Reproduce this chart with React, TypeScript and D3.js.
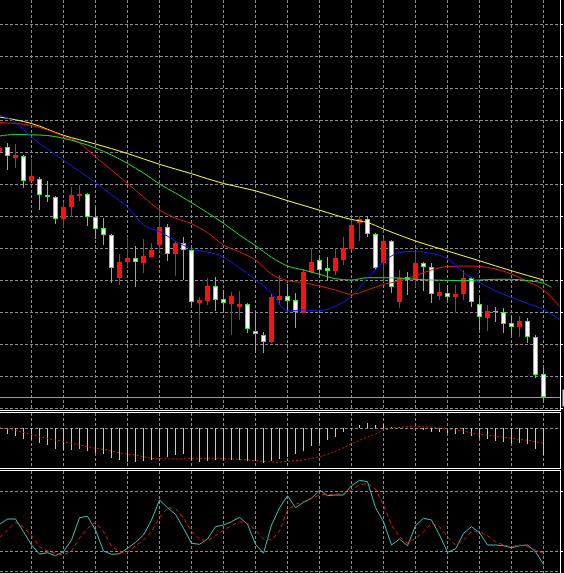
import React from 'react';
import * as d3 from 'd3';

// daily bars, oldest on the left
const opens = [
  1.3848, 1.3853, 1.3842, 1.3844, 1.3819, 1.3821, 1.3805, 1.3803, 1.3781, 1.3793,
  1.3804, 1.3806, 1.3783, 1.3772, 1.3765, 1.3722, 1.3738, 1.3742, 1.3737, 1.3743,
  1.3755, 1.3773, 1.3746, 1.3757, 1.3750, 1.3697, 1.3699, 1.3714, 1.3701, 1.3696,
  1.3693, 1.3696, 1.3669, 1.3665, 1.3658, 1.3700, 1.3704, 1.3700, 1.3687, 1.3728,
  1.3740, 1.3732, 1.3729, 1.3740, 1.3751, 1.3777, 1.3781, 1.3766, 1.3737, 1.3759,
  1.3698, 1.3723, 1.3720, 1.3737, 1.3733, 1.3704, 1.3707, 1.3703, 1.3706, 1.3722,
  1.3696, 1.3682, 1.3689, 1.3688, 1.3677, 1.3673, 1.3679, 1.3663, 1.3626,
];
const highs = [
  1.3856, 1.3857, 1.3856, 1.3845, 1.3841, 1.3823, 1.3819, 1.3804, 1.3798, 1.3813,
  1.3815, 1.3807, 1.3793, 1.3782, 1.3766, 1.3746, 1.3763, 1.3754, 1.3761, 1.3757,
  1.3792, 1.3776, 1.3759, 1.3763, 1.3752, 1.3703, 1.3722, 1.3723, 1.3710, 1.3708,
  1.3709, 1.3697, 1.3687, 1.3668, 1.3706, 1.3725, 1.3716, 1.3707, 1.3731, 1.3752,
  1.3743, 1.3743, 1.3752, 1.3763, 1.3782, 1.3784, 1.3784, 1.3767, 1.3762, 1.3760,
  1.3730, 1.3728, 1.3748, 1.3738, 1.3737, 1.3717, 1.3715, 1.3715, 1.3730, 1.3723,
  1.3702, 1.3695, 1.3693, 1.3692, 1.3685, 1.3684, 1.3682, 1.3665, 1.3632,
];
const lows = [
  1.3844, 1.3830, 1.3832, 1.3812, 1.3819, 1.3790, 1.3798, 1.3776, 1.3772, 1.3783,
  1.3799, 1.3774, 1.3761, 1.3755, 1.3717, 1.3715, 1.3733, 1.3713, 1.3727, 1.3743,
  1.3748, 1.3739, 1.3724, 1.3720, 1.3694, 1.3653, 1.3695, 1.3689, 1.3688, 1.3665,
  1.3680, 1.3667, 1.3647, 1.3647, 1.3657, 1.3695, 1.3690, 1.3672, 1.3687, 1.3727,
  1.3725, 1.3720, 1.3725, 1.3735, 1.3750, 1.3759, 1.3763, 1.3730, 1.3718, 1.3707,
  1.3692, 1.3705, 1.3713, 1.3709, 1.3697, 1.3700, 1.3700, 1.3687, 1.3700, 1.3693,
  1.3670, 1.3669, 1.3678, 1.3667, 1.3665, 1.3663, 1.3657, 1.3622, 1.3598,
];
const closes = [
  1.3852, 1.3844, 1.3845, 1.3819, 1.3824, 1.3805, 1.3803, 1.3781, 1.3793, 1.3805,
  1.3806, 1.3783, 1.3771, 1.3765, 1.3732, 1.3738, 1.3742, 1.3738, 1.3744, 1.3750,
  1.3773, 1.3746, 1.3757, 1.3750, 1.3698, 1.3700, 1.3714, 1.3700, 1.3697, 1.3704,
  1.3696, 1.3671, 1.3666, 1.3658, 1.3703, 1.3704, 1.3699, 1.3688, 1.3728, 1.3738,
  1.3730, 1.3729, 1.3742, 1.3752, 1.3775, 1.3781, 1.3766, 1.3732, 1.3759, 1.3713,
  1.3722, 1.3720, 1.3737, 1.3733, 1.3706, 1.3708, 1.3703, 1.3706, 1.3722, 1.3698,
  1.3683, 1.3689, 1.3688, 1.3676, 1.3673, 1.3679, 1.3663, 1.3625, 1.3603,
];

// moving averages as [bar, price]
const maYellow = [
  [0, 1.3883], [4, 1.38765], [8, 1.38647], [12, 1.3856], [16, 1.38465], [20, 1.38357],
  [24, 1.38263], [28, 1.38165], [32, 1.38092], [36, 1.37993], [40, 1.37898], [44, 1.37805],
  [46, 1.37775], [48, 1.3771], [52, 1.3759], [56, 1.3749], [60, 1.37392], [64, 1.37292], [68, 1.372],
];
const maRed = [
  [0, 1.38775], [4, 1.38745], [8, 1.38638], [10, 1.3857], [12, 1.3843], [14, 1.383],
  [16, 1.38165], [18, 1.3803], [20, 1.379], [22, 1.3782], [24, 1.37763], [26, 1.37673],
  [28, 1.3755], [30, 1.3748], [32, 1.374], [34, 1.3726], [36, 1.37193], [38, 1.37173],
  [40, 1.3714], [42, 1.371], [44, 1.37057], [46, 1.371], [48, 1.37157], [50, 1.3719],
  [52, 1.37245], [54, 1.373], [56, 1.37335], [58, 1.3734], [60, 1.37335], [62, 1.3731],
  [64, 1.3726], [66, 1.37185], [68, 1.371], [70, 1.36935],
];
const maGreen = [
  [0, 1.3864], [2, 1.38655], [4, 1.38652], [6, 1.38645], [8, 1.38617], [10, 1.38575],
  [12, 1.3852], [14, 1.3845], [16, 1.38365], [18, 1.3827], [20, 1.3816], [22, 1.3807],
  [24, 1.37973], [26, 1.37873], [28, 1.37767], [30, 1.3765], [32, 1.37543], [34, 1.37427],
  [36, 1.3734], [38, 1.373], [40, 1.37257], [42, 1.37213], [44, 1.372], [46, 1.37223],
  [48, 1.37223], [50, 1.3722], [52, 1.37207], [54, 1.372], [56, 1.37197], [58, 1.37193],
  [60, 1.372], [62, 1.37207], [64, 1.37207], [66, 1.37193], [68, 1.37167], [69, 1.37127],
];
const maBlue = [
  [0, 1.3885], [2, 1.38775], [4, 1.3863], [6, 1.3851], [8, 1.38397], [10, 1.38287],
  [12, 1.38175], [14, 1.38051], [16, 1.3793], [18, 1.3775], [20, 1.37685], [22, 1.3759],
  [24, 1.3751], [26, 1.37479], [28, 1.3743], [30, 1.3732], [32, 1.37205], [34, 1.3707],
  [36, 1.3689], [38, 1.369], [40, 1.3689], [42, 1.3694], [44, 1.37033], [46, 1.3722],
  [48, 1.3738], [50, 1.37475], [52, 1.37487], [54, 1.37465], [56, 1.37415], [58, 1.37274],
  [60, 1.37176], [62, 1.37092], [64, 1.37026], [66, 1.36966], [68, 1.36907], [70, 1.36803],
];

const macdHist = [
  -0.0005, -0.0006, -0.0008, -0.0011, -0.0012, -0.0015, -0.0017, -0.0021, -0.0022, -0.0022,
  -0.0021, -0.0023, -0.0025, -0.0026, -0.0030, -0.0032, -0.0034, -0.0034, -0.0033, -0.0032,
  -0.0029, -0.0029, -0.0027, -0.0026, -0.0032, -0.0034, -0.0033, -0.0032, -0.0032, -0.0032,
  -0.0032, -0.0033, -0.0033, -0.0035, -0.0033, -0.0031, -0.0029, -0.0026, -0.0023, -0.0018,
  -0.0015, -0.0012, -0.0009, -0.0004, -0.0001, 0.0003, 0.0005, 0.0003, 0.0004, 0.0001,
  0.0001, 0, -0.0001, -0.0002, -0.0004, -0.0004, -0.0005, -0.0006, -0.0006, -0.0008,
  -0.0010, -0.0011, -0.0013, -0.0014, -0.0015, -0.0015, -0.0016, -0.0021, -0.0027,
];
const macdSignal = [
  0.00005, -0.0001, -0.00025, -0.00043, -0.00065, -0.00087, -0.00103, -0.0012, -0.00137, -0.00153,
  -0.0017, -0.00187, -0.00203, -0.00213, -0.0023, -0.00247, -0.00263, -0.0027, -0.00287, -0.00303,
  -0.00307, -0.0031, -0.0031, -0.0031, -0.00303, -0.00303, -0.00303, -0.00303, -0.00307, -0.0031,
  -0.00313, -0.0032, -0.00327, -0.00333, -0.0034, -0.00343, -0.00333, -0.00327, -0.0032, -0.00303,
  -0.00287, -0.00263, -0.0023, -0.00197, -0.00157, -0.00123, -0.0009, -0.0006, -0.00023, -0.00003,
  0.00007, 0.00013, 0.00013, 0.00013, 0.00007, 0, -0.0001, -0.0002, -0.0003, -0.00047,
  -0.00063, -0.00073, -0.00083, -0.00093, -0.00103, -0.00113, -0.00123, -0.00137, -0.00153,
];

const stochMain = [
  46.7, 52, 52, 39.3, 26, 17, 18.3, 15.3, 19.3, 31,
  53.3, 54.7, 41, 20, 16.7, 17.3, 22.7, 28.7, 36, 51,
  71, 63.3, 56.7, 42.7, 27.7, 26.7, 32, 44.3, 46, 49.3,
  53.7, 46.7, 26.7, 17.7, 46, 63, 75.3, 63.3, 68.7, 72.7,
  81, 75.3, 76, 76, 85.3, 90.7, 89.3, 63.3, 49.3, 26,
  32, 25.3, 45.3, 52.7, 51, 36, 18.7, 22, 37.7, 44.3,
  38.3, 26, 26, 25.3, 23.3, 25.3, 26, 19.3, 6.7,
];
const stochSignal = [
  33.3, 41, 48.7, 44, 35.3, 24.3, 20, 17.7, 16, 20,
  32.7, 42.7, 48.7, 39.3, 25, 18.7, 18.7, 25.3, 31, 39.3,
  53.3, 63.3, 62.7, 53.3, 39.3, 32, 30, 35.3, 40.7, 45.3,
  49.3, 47.7, 41, 32, 31, 40, 61, 66.7, 69.3, 72.7,
  76, 76.7, 76.7, 77.7, 81, 86, 87.7, 82, 66, 46,
  34.3, 27.7, 32.7, 39.3, 47.7, 44.3, 34.3, 26, 31, 39.3,
  39.3, 35.3, 29.3, 26, 24.3, 26, 24.3, 21, 17.7,
];
const stochLevels = [80, 20];

const width = 564;
const height = 573;
const right = 560;
const mainBottom = 410;
const macdTop = 412;
const macdBottom = 468;
const stochTop = 470;

const x = d3.scaleLinear().domain([0, 68]).range([-0.5, 543.5]);
const yPrice = d3.scaleLinear().domain([1.36, 1.4]).range([400, 0]);
const yMacd = d3.scaleLinear().domain([-0.004, 0.0016]).range([468, 412]);
const yStoch = d3.scaleLinear().domain([0, 100]).range([571, 471]);

const gridCols = d3.range(31, right, 32);
const gridRows = d3.range(24, mainBottom, 32);
const gridColor = '#8a8a8a';
const dash = '3,2';

const bullColor = '#ff1010';
const bearStroke = '#20ff20';

export default function App() {
  const bars = opens.map((o, i) => ({ i, o, h: highs[i], l: lows[i], c: closes[i] }));

  const maLine = d3.line<number[]>()
    .x((d) => x(d[0]))
    .y((d) => yPrice(d[1]))
    .curve(d3.curveMonotoneX);

  const macdLine = d3.line<number>()
    .x((d, i) => x(i))
    .y((d) => yMacd(d));

  const stochLine = d3.line<number>()
    .x((d, i) => x(i))
    .y((d) => yStoch(d));

  const px = (v: number) => Math.round(v);
  const bidY = px(yPrice(closes[closes.length - 1])) + 0.5;

  return (
    <svg width={width} height={height}
      style={{ display: 'block', position: 'absolute', left: 0, top: 0, background: '#000' }}>
      <defs>
        <clipPath id="clip-main"><rect x={0} y={0} width={right} height={mainBottom} /></clipPath>
        <clipPath id="clip-macd"><rect x={0} y={macdTop + 1} width={right} height={macdBottom - macdTop - 1} /></clipPath>
        <clipPath id="clip-stoch"><rect x={0} y={stochTop + 1} width={right} height={height - stochTop} /></clipPath>
      </defs>
      <rect x={0} y={0} width={width} height={height} fill="#000" />

      {/* grid */}
      <g stroke={gridColor} strokeDasharray={dash} shapeRendering="crispEdges">
        {gridRows.map((r) => (
          <line key={'r' + r} x1={0} x2={right} y1={r + 0.5} y2={r + 0.5} />
        ))}
        {gridCols.map((c) => (
          <g key={'c' + c}>
            <line x1={c + 0.5} x2={c + 0.5} y1={0} y2={mainBottom} />
            <line x1={c + 0.5} x2={c + 0.5} y1={macdTop + 1} y2={macdBottom} />
            <line x1={c + 0.5} x2={c + 0.5} y1={stochTop + 1} y2={height} />
          </g>
        ))}
        <line x1={0} x2={right} y1={px(yMacd(0)) + 0.5} y2={px(yMacd(0)) + 0.5} />
        {stochLevels.map((lv) => (
          <line key={lv} x1={0} x2={right} y1={px(yStoch(lv)) + 0.5} y2={px(yStoch(lv)) + 0.5} />
        ))}
        <line x1={0} x2={right} y1={px(yStoch(0)) + 0.5} y2={px(yStoch(0)) + 0.5} />
      </g>

      {/* bid line */}
      <line x1={0} x2={right} y1={bidY} y2={bidY} stroke="#9a9a9a" shapeRendering="crispEdges" />

      {/* candles */}
      <g clipPath="url(#clip-main)" shapeRendering="crispEdges">
        {bars.map((b) => {
          const cx = x(b.i);
          const bull = b.c > b.o;
          const top = px(yPrice(Math.max(b.o, b.c)));
          const bot = px(yPrice(Math.min(b.o, b.c)));
          const col = bull ? bullColor : bearStroke;
          return (
            <g key={b.i}>
              <line x1={cx} x2={cx} y1={px(yPrice(b.h))} y2={px(yPrice(b.l))} stroke={col} />
              {bull ? (
                <rect x={cx - 2.5} y={top} width={5} height={Math.max(bot - top, 1)} fill={bullColor} />
              ) : bot - top >= 2 ? (
                <rect x={cx - 2} y={top + 0.5} width={4} height={bot - top - 1}
                  fill="#ffffff" stroke={bearStroke} />
              ) : (
                <rect x={cx - 2.5} y={top} width={5} height={Math.max(bot - top, 1)} fill={bearStroke} />
              )}
            </g>
          );
        })}
      </g>

      {/* moving averages */}
      <g clipPath="url(#clip-main)" fill="none" strokeWidth={1}>
        <path d={maLine(maYellow) ?? ''} stroke="#ffff30" />
        <path d={maLine(maRed) ?? ''} stroke="#e01818" />
        <path d={maLine(maGreen) ?? ''} stroke="#28dd28" />
        <path d={maLine(maBlue) ?? ''} stroke="#1818e8" />
      </g>

      {/* MACD */}
      <g clipPath="url(#clip-macd)">
        <g stroke="#c8c8c8" shapeRendering="crispEdges">
          {macdHist.map((v, i) => (
            <line key={i} x1={x(i)} x2={x(i)} y1={px(yMacd(0))} y2={px(yMacd(v))} />
          ))}
        </g>
        <path d={macdLine(macdSignal) ?? ''} fill="none" stroke="#d01818" strokeDasharray="2,2" />
      </g>

      {/* Stochastic */}
      <g clipPath="url(#clip-stoch)" fill="none">
        <path d={stochLine(stochMain) ?? ''} stroke="#40c0b6" />
        <path d={stochLine(stochSignal) ?? ''} stroke="#e01818" strokeDasharray="4,3" />
      </g>

      {/* panel frames */}
      <g stroke="#ffffff" shapeRendering="crispEdges">
        <line x1={0} x2={right + 1} y1={mainBottom + 0.5} y2={mainBottom + 0.5} />
        <line x1={0} x2={right + 1} y1={macdTop + 0.5} y2={macdTop + 0.5} />
        <line x1={0} x2={right + 1} y1={macdBottom + 0.5} y2={macdBottom + 0.5} />
        <line x1={0} x2={right + 1} y1={stochTop + 0.5} y2={stochTop + 0.5} />
        <line x1={right + 0.5} x2={right + 0.5} y1={0} y2={mainBottom} />
        <line x1={right + 0.5} x2={right + 0.5} y1={macdTop} y2={macdBottom} />
        <line x1={right + 0.5} x2={right + 0.5} y1={stochTop} y2={height} />
        {gridRows.map((r) => (
          <line key={'t' + r} x1={right + 1} x2={right + 3} y1={r + 0.5} y2={r + 0.5} />
        ))}
        {stochLevels.map((lv) => (
          <line key={'s' + lv} x1={right + 1} x2={right + 3} y1={px(yStoch(lv)) + 0.5} y2={px(yStoch(lv)) + 0.5} />
        ))}
      </g>
      <rect x={562.5} y={bidY - 8} width={2} height={17} fill="#d0d0d0" />
    </svg>
  );
}
